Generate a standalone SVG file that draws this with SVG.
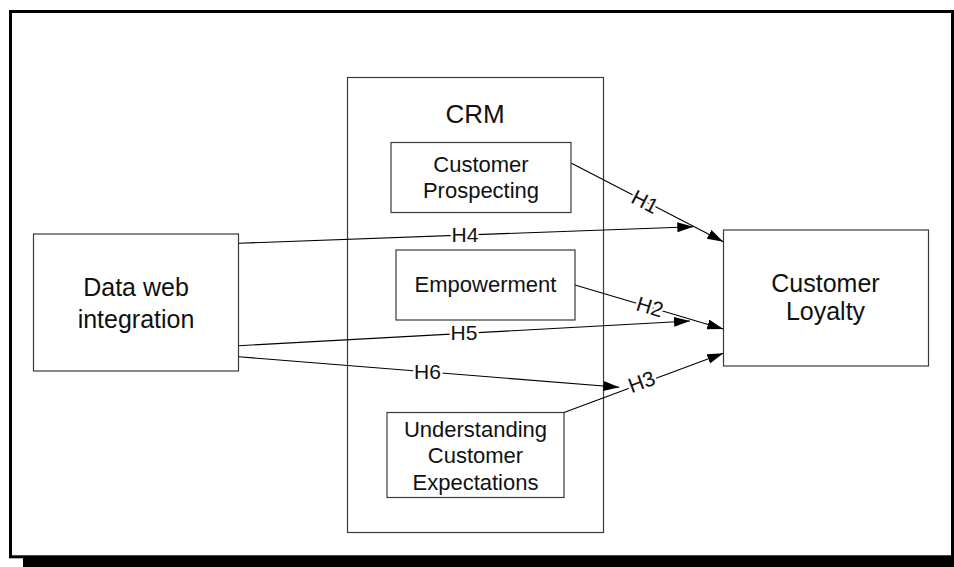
<svg xmlns="http://www.w3.org/2000/svg" width="954" height="567" viewBox="0 0 954 567">
<style>
.box{fill:#fff;stroke:#3a3a3a;stroke-width:1.2}
.t{font-family:"Liberation Sans",Arial,sans-serif;fill:#111;text-anchor:middle}
.big{font-size:25px}
.mid{font-size:22px}
.crm{font-size:26px}
.lbl{font-family:"Liberation Sans",Arial,sans-serif;font-size:21px;fill:#111;text-anchor:middle;stroke:#fff;stroke-width:5;paint-order:stroke;stroke-linejoin:round}
.edge{stroke:#000;stroke-width:1.1;fill:none}
</style>
<defs>
<marker id="arr" markerUnits="userSpaceOnUse" markerWidth="17" markerHeight="11" refX="16" refY="5" orient="auto">
<path d="M0,0 L16,5 L0,10 z" fill="#000"/>
</marker>
</defs>
<rect x="0" y="0" width="954" height="567" fill="#fff"/>
<rect x="23" y="556" width="940" height="20" fill="#000"/>
<rect x="10.5" y="11.5" width="942" height="545.3" fill="#fff" stroke="#000" stroke-width="3"/>

<g id="crm">
<rect class="box" x="347.5" y="77.5" width="256" height="455"/>
<text class="t crm" x="475" y="123">CRM</text>
</g>

<g id="prospecting">
<rect class="box" x="391" y="142.5" width="180" height="70"/>
<text class="t mid" x="481" y="171.5">Customer</text>
<text class="t mid" x="481" y="197.5">Prospecting</text>
</g>

<g id="empowerment">
<rect class="box" x="396" y="250" width="179" height="70"/>
<text class="t mid" x="485.5" y="292.3">Empowerment</text>
</g>

<g id="understanding">
<rect class="box" x="387" y="412.5" width="177" height="85"/>
<text class="t mid" x="475.5" y="437.3">Understanding</text>
<text class="t mid" x="475.5" y="463.3">Customer</text>
<text class="t mid" x="475.5" y="490">Expectations</text>
</g>

<g id="dataweb">
<rect class="box" x="33.5" y="234" width="205" height="137"/>
<text class="t big" x="136" y="295.7">Data web</text>
<text class="t big" x="136" y="328">integration</text>
</g>

<g id="loyalty">
<rect class="box" x="723.5" y="230" width="205" height="136"/>
<text class="t big" x="825.5" y="291.7">Customer</text>
<text class="t big" x="825.5" y="320">Loyalty</text>
</g>

<g id="connectors">
<line class="edge" x1="571.5" y1="163.3" x2="723.3" y2="241.7" marker-end="url(#arr)"/>
<line class="edge" x1="238.7" y1="243.3" x2="693.3" y2="226.7" marker-end="url(#arr)"/>
<line class="edge" x1="575" y1="285" x2="723.3" y2="329" marker-end="url(#arr)"/>
<line class="edge" x1="238.7" y1="345.7" x2="690" y2="321" marker-end="url(#arr)"/>
<line class="edge" x1="238.7" y1="356.7" x2="619.3" y2="387.3" marker-end="url(#arr)"/>
<line class="edge" x1="564" y1="412.5" x2="723.3" y2="353.3" marker-end="url(#arr)"/>
<text class="lbl" x="645" y="209" transform="rotate(27.3 645 201.7)">H1</text>
<text class="lbl" x="465" y="241.8">H4</text>
<text class="lbl" x="650" y="314" transform="rotate(16.5 650 306.7)">H2</text>
<text class="lbl" x="464" y="340">H5</text>
<text class="lbl" x="427.5" y="378.5">H6</text>
<text class="lbl" x="641.7" y="389" transform="rotate(-20.2 641.7 381.7)">H3</text>
</g>
</svg>
